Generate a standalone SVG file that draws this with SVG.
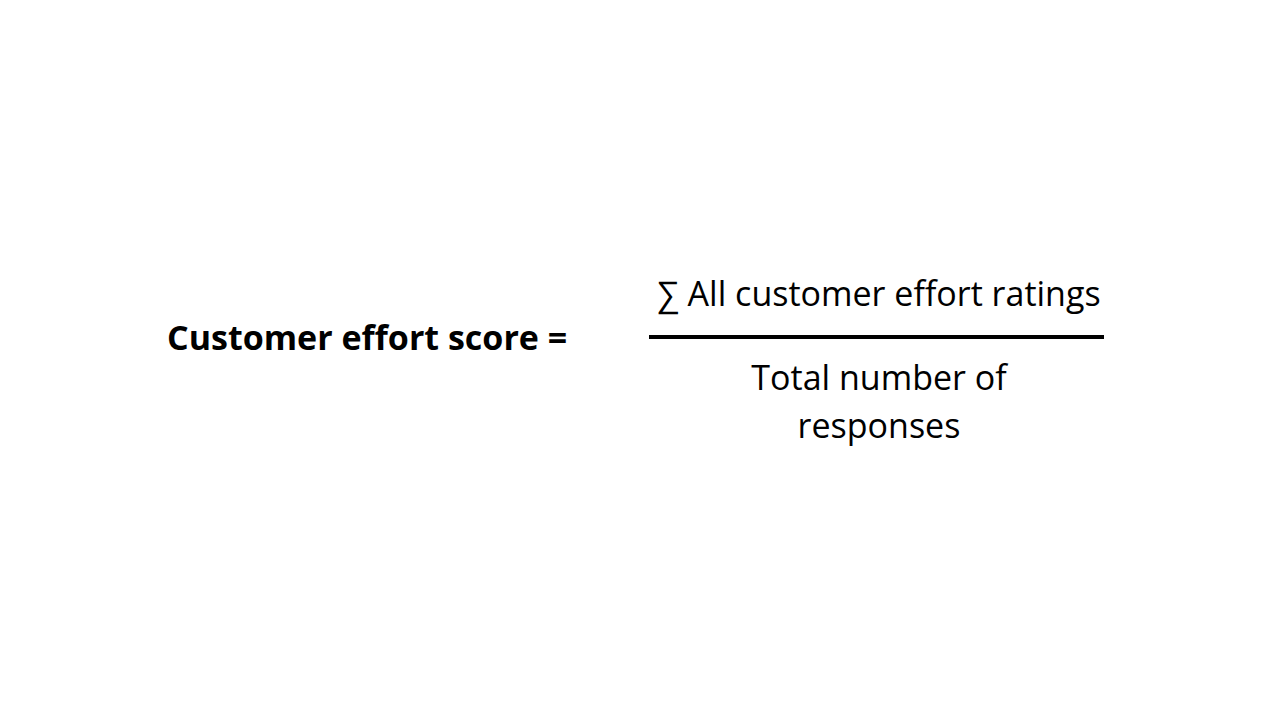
<svg xmlns="http://www.w3.org/2000/svg" width="1280" height="720" viewBox="0 0 1280 720">
<style>
text{font-family:"Open Sans","Noto Sans",sans-serif;fill:#000;font-size:34px}
.b{font-weight:bold}
</style>
<rect width="1280" height="720" fill="#fff"/>
<g id="label"><text class="b" x="167" y="350">Customer effort score =</text></g>
<g id="numerator"><text x="879" y="306" text-anchor="middle">∑ All customer effort ratings</text></g>
<g id="connectors"><line x1="649" y1="337" x2="1104" y2="337" stroke="#000" stroke-width="4"/></g>
<g id="denominator"><text x="879" y="390" text-anchor="middle">Total number of</text><text x="879" y="438" text-anchor="middle">responses</text></g>
</svg>
